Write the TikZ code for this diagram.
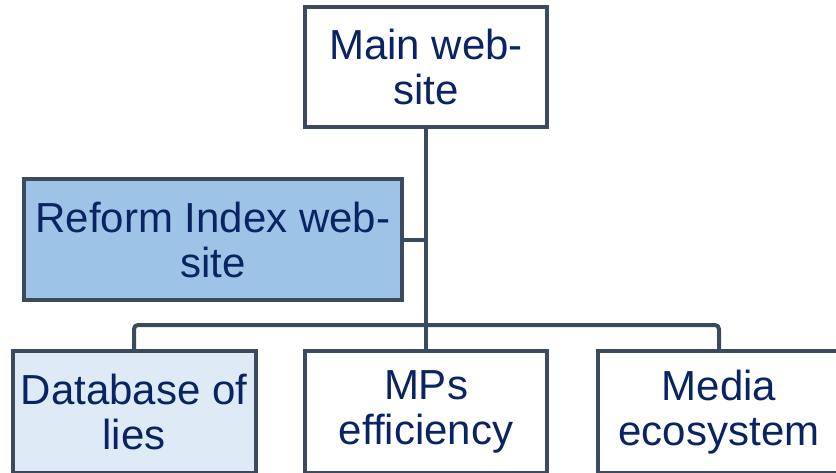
\documentclass[tikz,border=0pt]{standalone}
\usepackage{fontspec}
\setmainfont{Liberation Sans}
\usepackage{tikz}
\usetikzlibrary{positioning}
\definecolor{BoxLine}{HTML}{3B4A5C}
\definecolor{TextNavy}{HTML}{0A2463}
\definecolor{ReformBlue}{HTML}{9DC3E6}
\definecolor{LiesBlue}{HTML}{DEEAF6}

\begin{document}
\begin{tikzpicture}[x=0.5pt, y=-0.5pt,
    unit/.style={rectangle,draw=BoxLine,line width=2pt,fill=white,text=TextNavy,
      align=center,inner sep=0pt,font=\fontsize{21}{22.5}\selectfont},
    link/.style={draw=BoxLine,line width=2pt,line join=round}]
    \clip (0,0) rectangle (836,472);
    \useasboundingbox (0,0) rectangle (836,472);
    \node[unit,minimum width=121pt,minimum height=60pt] (main) at (426,67) {Main web-\\site};
    \node[unit,fill=ReformBlue,minimum width=189pt,minimum height=60.5pt] (reform) at (213,239.5) {Reform Index web-\\site};
    \node[unit,fill=LiesBlue,minimum width=121.5pt,minimum height=61pt] (lies) at (134,412) {Database of\\lies};
    \node[unit,minimum width=121pt,minimum height=61pt] (mps) at (426,412) {MPs\\efficiency};
    \node[unit,minimum width=121pt,minimum height=61pt] (media) at (719,412) {Media\\ecosystem};
    \coordinate (bus) at (426,325);
    \draw[link] (main.south) -- (bus);
    \draw[link] (reform.east) -- (reform.east -| main.south);
    \draw[link,rounded corners=2pt] (lies.north) |- (bus) -| (media.north);
    \draw[link] (bus) -- (mps.north);
  \end{tikzpicture}
\end{document}
